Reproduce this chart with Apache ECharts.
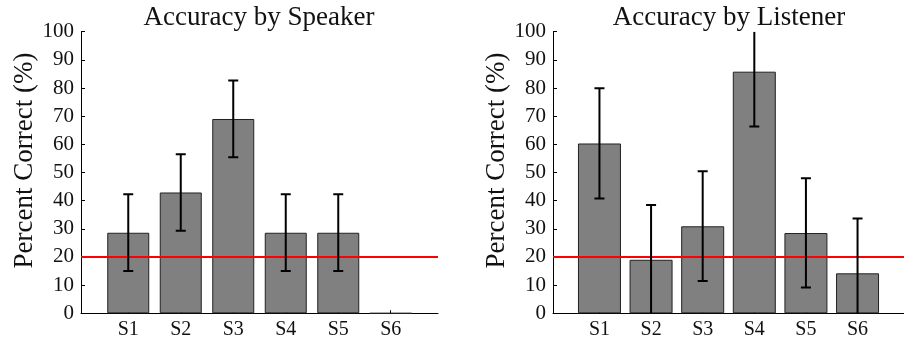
<!DOCTYPE html>
<html>
<head>
<meta charset="utf-8">
<script src="https://cdn.jsdelivr.net/npm/echarts@6/dist/echarts.min.js"></script>
<style>
  html, body { margin: 0; padding: 0; background: #fff; }
  #accuracy-graph { width: 904px; height: 343px; }
</style>
</head>
<body>
<div id="accuracy-graph"></div>
<script>
const categories = ['S1', 'S2', 'S3', 'S4', 'S5', 'S6'];
const positions = [1, 2, 3, 4, 5, 6];

const speakerMean = [28.6, 42.9, 69.0, 28.6, 28.6, 0];
const speakerLow = [15.0, 29.3, 55.4, 15.0, 15.0, 0];
const speakerHigh = [42.3, 56.5, 82.7, 42.3, 42.3, 0];

const listenerMean = [60.3, 19.0, 30.9, 85.8, 28.5, 14.2];
const listenerLow = [40.8, -0.3, 11.5, 66.3, 9.2, -5.1];
const listenerHigh = [79.9, 38.5, 50.4, 105.3, 48.0, 33.7];

const chanceLevel = 20;

const FONT = 'Liberation Serif';
const BAR_COLOR = '#808080';

let accuracy_graph = echarts.init(document.getElementById('accuracy-graph'));

// error bar: vertical line plus caps, caps dropped where the bar runs off the axis
function error_bar_item(params, api) {
    let x = api.value(0), lo = api.value(1), hi = api.value(2);
    if (lo === hi) return;
    let top = api.coord([x, Math.min(hi, 100)]);
    let bottom = api.coord([x, Math.max(lo, 0)]);
    let cap = 5;
    let style = { stroke: '#000', lineWidth: 2 };
    let children = [
        { type: 'line', shape: { x1: top[0], y1: top[1], x2: bottom[0], y2: bottom[1] }, style: style }
    ];
    if (hi <= 100) {
        children.push({ type: 'line', shape: { x1: top[0] - cap, y1: top[1], x2: top[0] + cap, y2: top[1] }, style: style });
    }
    if (lo >= 0) {
        children.push({ type: 'line', shape: { x1: bottom[0] - cap, y1: bottom[1], x2: bottom[0] + cap, y2: bottom[1] }, style: style });
    }
    return { type: 'group', children: children };
}

function x_axis(index) {
    return {
        type: 'value',
        gridIndex: index,
        min: 0.1,
        max: 6.9,
        splitLine: { show: false },
        axisLine: { lineStyle: { color: '#000', width: 1 } },
        axisTick: { inside: true, length: 3, customValues: positions, lineStyle: { color: '#000' } },
        axisLabel: {
            customValues: positions,
            formatter: function (v) { return categories[Math.round(v) - 1]; },
            color: '#111',
            fontFamily: FONT,
            fontSize: 20,
            margin: 6
        }
    };
}

function y_axis(index) {
    return {
        type: 'value',
        gridIndex: index,
        min: 0,
        max: 100,
        interval: 10,
        name: 'Percent Correct (%)',
        nameLocation: 'middle',
        nameGap: 43,
        nameTextStyle: { color: '#111', fontFamily: FONT, fontSize: 27, padding: [0, 0, 0, 24] },
        splitLine: { show: false },
        axisLine: { show: true, lineStyle: { color: '#000', width: 1 } },
        axisTick: { show: true, inside: true, length: 4, lineStyle: { color: '#000' } },
        axisLabel: { color: '#111', fontFamily: FONT, fontSize: 21, margin: 7 }
    };
}

function bar_series(index, means, width) {
    return {
        type: 'bar',
        xAxisIndex: index,
        yAxisIndex: index,
        barWidth: width,
        data: positions.map((p, i) => [p, means[i]]),
        itemStyle: { color: BAR_COLOR, borderColor: '#222', borderWidth: 1 },
        markLine: {
            silent: true,
            symbol: 'none',
            label: { show: false },
            lineStyle: { color: '#ff0000', width: 2, type: 'solid' },
            data: [{ yAxis: chanceLevel }]
        }
    };
}

function error_series(index, lows, highs) {
    return {
        type: 'custom',
        xAxisIndex: index,
        yAxisIndex: index,
        clip: true,
        z: 5,
        renderItem: error_bar_item,
        data: positions.map((p, i) => [p, lows[i], highs[i]])
    };
}

let echarts_options = {
    animation: false,
    backgroundColor: '#fff',
    title: [
        {
            text: 'Accuracy by Speaker',
            left: 254, top: -1, textAlign: 'center',
            textStyle: { fontFamily: FONT, fontSize: 27, fontWeight: 'normal', color: '#111' }
        },
        {
            text: 'Accuracy by Listener',
            left: 724, top: -1, textAlign: 'center',
            textStyle: { fontFamily: FONT, fontSize: 27, fontWeight: 'normal', color: '#111' }
        }
    ],
    grid: [
        { left: 81, top: 31.7, width: 357, height: 281.6 },
        { left: 553, top: 31.7, width: 363, height: 281.6 }
    ],
    xAxis: [x_axis(0), x_axis(1)],
    yAxis: [y_axis(0), y_axis(1)],
    series: [
        bar_series(0, speakerMean, 42),
        error_series(0, speakerLow, speakerHigh),
        bar_series(1, listenerMean, 43),
        error_series(1, listenerLow, listenerHigh)
    ]
};

accuracy_graph.setOption(echarts_options);
</script>
</body>
</html>
